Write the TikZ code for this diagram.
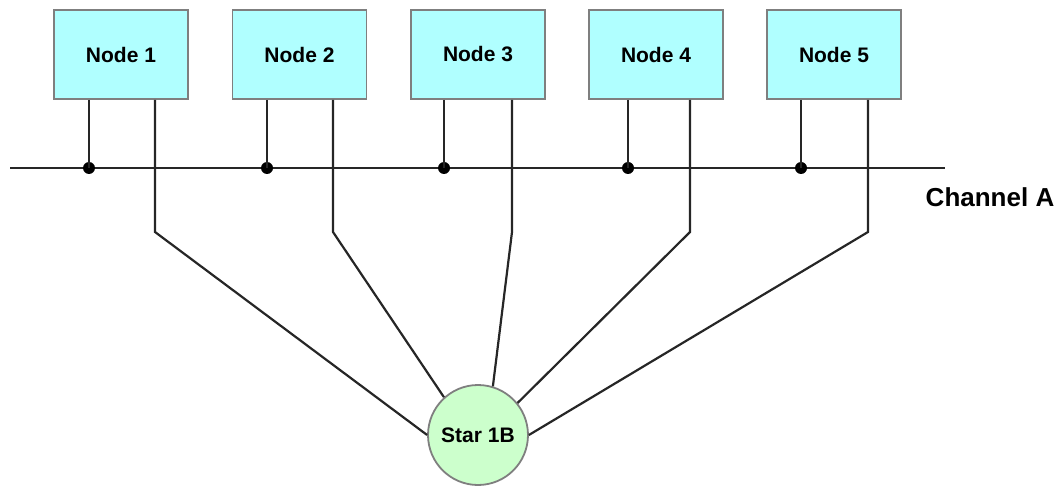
\documentclass[tikz,border=0pt]{standalone}
\usepackage{fontspec}
\setmainfont{Liberation Sans}
\usetikzlibrary{calc}

\definecolor{boxcyan}{HTML}{B0FFFF}
\definecolor{stargreen}{HTML}{CCFFCC}
\definecolor{rimgray}{HTML}{7F7F7F}

\tikzset{
  station/.style={draw=rimgray, fill=boxcyan, line width=1.8pt, inner sep=0pt,
    minimum width=134pt, minimum height=89pt,
    font=\fontsize{21}{25}\selectfont\bfseries},
  hub/.style={circle, draw=rimgray, fill=stargreen, line width=1.8pt, inner sep=0pt,
    minimum size=100pt, font=\fontsize{21}{25}\selectfont\bfseries},
  wire/.style={line width=2.2pt, black!85},
  tapdot/.style={circle, fill=black, inner sep=0pt, minimum size=12pt}
}

\begin{document}
\begin{tikzpicture}[x=1pt, y=-1pt]

  \useasboundingbox (0,0) rectangle (1059,486);

  % Star coupler
  \node[hub] (star) at (478,435) {Star 1B};

  % Channel A bus
  \coordinate (busL) at (10,168);
  \coordinate (busR) at (945,168);
  \draw[wire] (busL) -- (busR);
  \node[font=\fontsize{26}{30}\selectfont\bfseries] (chA) at (990,197) {Channel A};

  % Nodes, bus taps and star links
  \foreach \i/\x/\a/\b/\ang in {1/121/89/155/180, 2/299.5/267/333/132,
                               3/478/444/512/73, 4/656/628/690/39,
                               5/834/801/868/0} {
    \node[station] (n\i) at (\x,54.5) {Node \i};
    \node[tapdot] (tap\i) at (\a,168) {};
    \coordinate (bend\i) at (\b,232);
    \draw[wire] (n\i.south -| tap\i) -- (tap\i.center);
    \draw[wire] (n\i.south -| bend\i) -- (bend\i) -- (star.\ang);
  }

\end{tikzpicture}
\end{document}
